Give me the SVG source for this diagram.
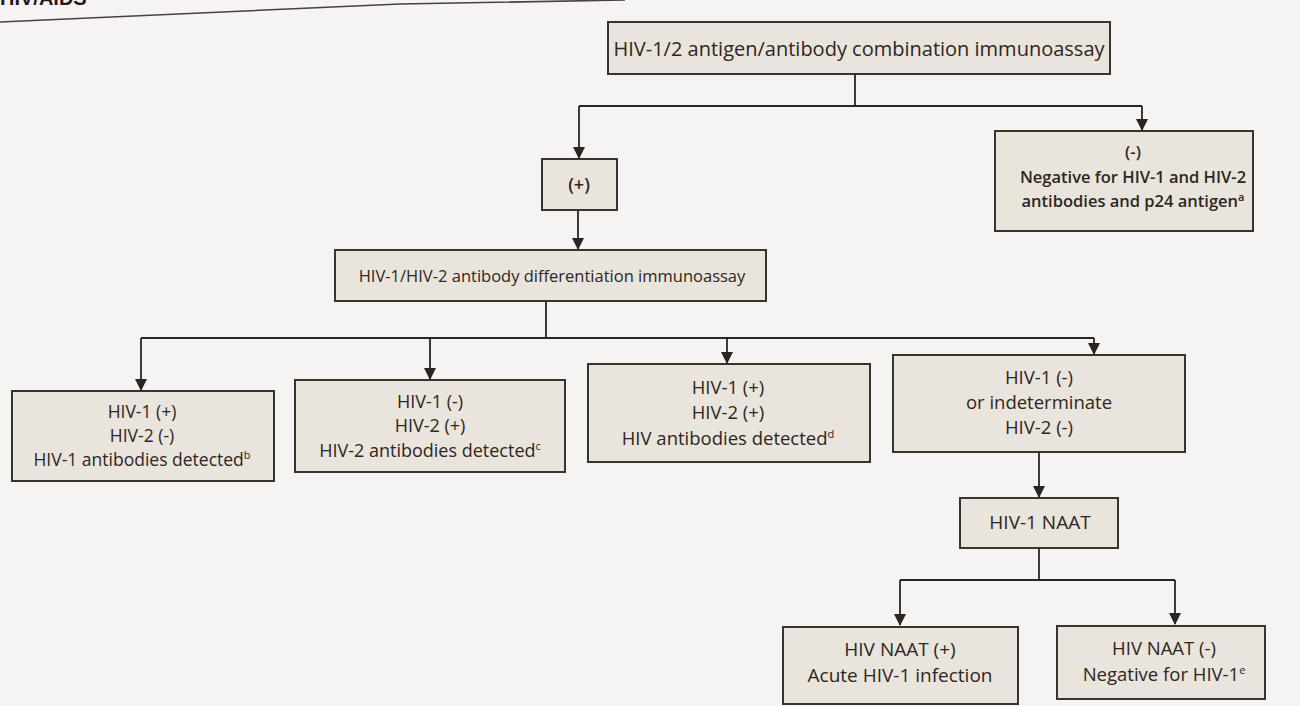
<svg xmlns="http://www.w3.org/2000/svg" width="1300" height="706" viewBox="0 0 1300 706">
<defs>
<marker id="ah" viewBox="0 0 12 12" refX="11" refY="6" markerWidth="12" markerHeight="13" markerUnits="userSpaceOnUse" orient="auto">
<path d="M0,0 L12,6 L0,12 Z" fill="#2b2522"/>
</marker>
<style>
.box{fill:#e9e4dc;stroke:#3a3330;stroke-width:2}
.t{font-family:"Open Sans","Noto Sans",sans-serif;fill:#2e2623;text-anchor:middle}
.c{fill:none;stroke:#2b2522;stroke-width:1.8}
.sup{font-size:11px}
</style>
</defs>
<rect width="1300" height="706" fill="#f5f4f2"/>
<text x="0" y="5" font-family="'Liberation Sans',sans-serif" font-weight="bold" font-size="20" fill="#2a1420">HIV/AIDS</text>
<path d="M0,22 L400,4 L625,0" fill="none" stroke="#4a4040" stroke-width="1.6"/>

<g id="connectors">
<path class="c" d="M855,74 V106"/>
<path class="c" d="M579,106 H1142"/>
<path class="c" d="M579,106 V158" marker-end="url(#ah)"/>
<path class="c" d="M1142,106 V130" marker-end="url(#ah)"/>
<path class="c" d="M578,210 V249" marker-end="url(#ah)"/>
<path class="c" d="M546,301 V338"/>
<path class="c" d="M141,338 H1094"/>
<path class="c" d="M141,338 V390" marker-end="url(#ah)"/>
<path class="c" d="M430,338 V379" marker-end="url(#ah)"/>
<path class="c" d="M727,338 V363" marker-end="url(#ah)"/>
<path class="c" d="M1094,338 V354" marker-end="url(#ah)"/>
<path class="c" d="M1039,452 V497" marker-end="url(#ah)"/>
<path class="c" d="M1039,548 V580"/>
<path class="c" d="M900,580 H1175"/>
<path class="c" d="M900,580 V625" marker-end="url(#ah)"/>
<path class="c" d="M1175,580 V624" marker-end="url(#ah)"/>
</g>

<g id="combo">
<rect class="box" x="608" y="22" width="502" height="52"/>
<text class="t" x="859" y="56" font-size="20">HIV-1/2 antigen/antibody combination immunoassay</text>
</g>
<g id="pos">
<rect class="box" x="542" y="159" width="75" height="51"/>
<text class="t" x="579" y="191" font-size="18" font-weight="600">(+)</text>
</g>
<g id="neg">
<rect class="box" x="995" y="131" width="258" height="100"/>
<text class="t" x="1133" y="158" font-size="16.5" font-weight="600">(-)</text>
<text class="t" x="1133" y="183" font-size="16.5" font-weight="600">Negative for HIV-1 and HIV-2</text>
<text class="t" x="1133" y="207" font-size="16.5" font-weight="600">antibodies and p24 antigen<tspan class="sup" dy="-6">a</tspan></text>
</g>
<g id="diff">
<rect class="box" x="335" y="250" width="431" height="51"/>
<text class="t" x="552" y="282" font-size="16.5">HIV-1/HIV-2 antibody differentiation immunoassay</text>
</g>
<g id="hiv1pos">
<rect class="box" x="12" y="391" width="262" height="90"/>
<text class="t" x="142" y="418" font-size="17.5">HIV-1 (+)</text>
<text class="t" x="142" y="442" font-size="17.5">HIV-2 (-)</text>
<text class="t" x="142" y="466" font-size="17.5">HIV-1 antibodies detected<tspan class="sup" dy="-7">b</tspan></text>
</g>
<g id="hiv2pos">
<rect class="box" x="295" y="380" width="270" height="92"/>
<text class="t" x="430" y="408" font-size="18">HIV-1 (-)</text>
<text class="t" x="430" y="432" font-size="18">HIV-2 (+)</text>
<text class="t" x="430" y="457" font-size="18">HIV-2 antibodies detected<tspan class="sup" dy="-7">c</tspan></text>
</g>
<g id="bothpos">
<rect class="box" x="588" y="364" width="282" height="98"/>
<text class="t" x="728" y="394" font-size="18.5">HIV-1 (+)</text>
<text class="t" x="728" y="419" font-size="18.5">HIV-2 (+)</text>
<text class="t" x="728" y="445" font-size="18.5">HIV antibodies detected<tspan class="sup" dy="-7">d</tspan></text>
</g>
<g id="indet">
<rect class="box" x="893" y="355" width="292" height="97"/>
<text class="t" x="1039" y="384" font-size="18.5">HIV-1 (-)</text>
<text class="t" x="1039" y="409" font-size="18.5">or indeterminate</text>
<text class="t" x="1039" y="434" font-size="18.5">HIV-2 (-)</text>
</g>
<g id="naat">
<rect class="box" x="960" y="498" width="158" height="50"/>
<text class="t" x="1040" y="529" font-size="19">HIV-1 NAAT</text>
</g>
<g id="naatpos">
<rect class="box" x="783" y="627" width="235" height="77"/>
<text class="t" x="900" y="656" font-size="19">HIV NAAT (+)</text>
<text class="t" x="900" y="682" font-size="19">Acute HIV-1 infection</text>
</g>
<g id="naatneg">
<rect class="box" x="1057" y="626" width="208" height="73"/>
<text class="t" x="1164" y="655" font-size="18.5">HIV NAAT (-)</text>
<text class="t" x="1164" y="681" font-size="18.5">Negative for HIV-1<tspan class="sup" dy="-7">e</tspan></text>
</g>
</svg>
